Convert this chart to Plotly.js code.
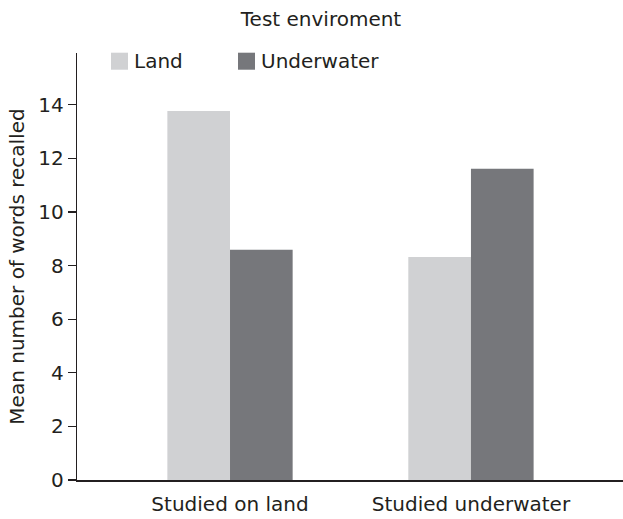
<!DOCTYPE html>
<html>
<head>
<meta charset="utf-8">
<script src="https://cdn.plot.ly/plotly-3.0.1.min.js"></script>
<style>html,body{margin:0;padding:0;background:#fff;}#chart{width:623px;height:519px;}</style>
</head>
<body>
<div id="chart"></div>
<script>
var categories = ["Studied on land", "Studied underwater"];
var seriesNames = ["Land", "Underwater"];
var landValues = [13.77, 8.32];
var underwaterValues = [8.59, 11.61];
var yTicks = [0, 2, 4, 6, 8, 10, 12, 14];

var colors = ["#d0d1d3", "#76777b"];
var ink = "#231f20";
var fontFam = "DejaVu Sans, Liberation Sans, Arial, sans-serif";

var traces = [
  {type: "bar", name: seriesNames[0], x: categories, y: landValues,
   marker: {color: colors[0]}, showlegend: false, hoverinfo: "skip"},
  {type: "bar", name: seriesNames[1], x: categories, y: underwaterValues,
   marker: {color: colors[1]}, showlegend: false, hoverinfo: "skip"}
];

// manual legend (squares + labels)
var legendX = [111, 238];
var shapes = [];
var annotations = [];
for (var i = 0; i < seriesNames.length; i++) {
  shapes.push({type: "rect", xref: "paper", yref: "paper",
    x0: (legendX[i] - 77) / 546, x1: (legendX[i] + 17 - 77) / 546,
    y0: (480 - 70) / 426.7, y1: (480 - 53) / 426.7,
    fillcolor: colors[i], line: {width: 0}});
  annotations.push({xref: "paper", yref: "paper",
    x: (legendX[i] + 21 - 77) / 546, y: (480 - 61.5) / 426.7,
    xanchor: "left", yanchor: "middle", showarrow: false,
    text: seriesNames[i], font: {family: fontFam, size: 20, color: ink}});
}

var layout = {
  width: 623, height: 519,
  margin: {l: 77, r: 0, t: 53.3, b: 39},
  paper_bgcolor: "#fff", plot_bgcolor: "#fff",
  font: {family: fontFam, size: 20, color: ink},
  title: {text: "Test enviroment", x: 321 / 623, xref: "container", xanchor: "center",
          y: 1 - 19 / 519, yref: "container", yanchor: "middle",
          font: {family: fontFam, size: 20, color: ink}},
  barmode: "group",
  bargap: 0.48,
  bargroupgap: 0,
  xaxis: {type: "category", range: [-0.635, 1.631], showline: true,
          linecolor: ink, linewidth: 1.8, ticks: "", showgrid: false,
          zeroline: false, fixedrange: true, ticklabelstandoff: 5,
          tickfont: {family: fontFam, size: 20, color: ink}},
  yaxis: {range: [0, 15.93], tickvals: yTicks, ticktext: yTicks.map(String),
          showline: true, linecolor: ink, linewidth: 1.2,
          ticks: "outside", ticklen: 8, tickwidth: 1.2, tickcolor: ink,
          showgrid: false, zeroline: false, fixedrange: true,
          tickfont: {family: fontFam, size: 20, color: ink},
          title: {text: "Mean number of words recalled",
                  font: {family: fontFam, size: 20, color: ink}, standoff: 8}},
  shapes: shapes,
  annotations: annotations,
  showlegend: false
};

Plotly.newPlot("chart", traces, layout, {displayModeBar: false, staticPlot: true});
</script>
</body>
</html>
